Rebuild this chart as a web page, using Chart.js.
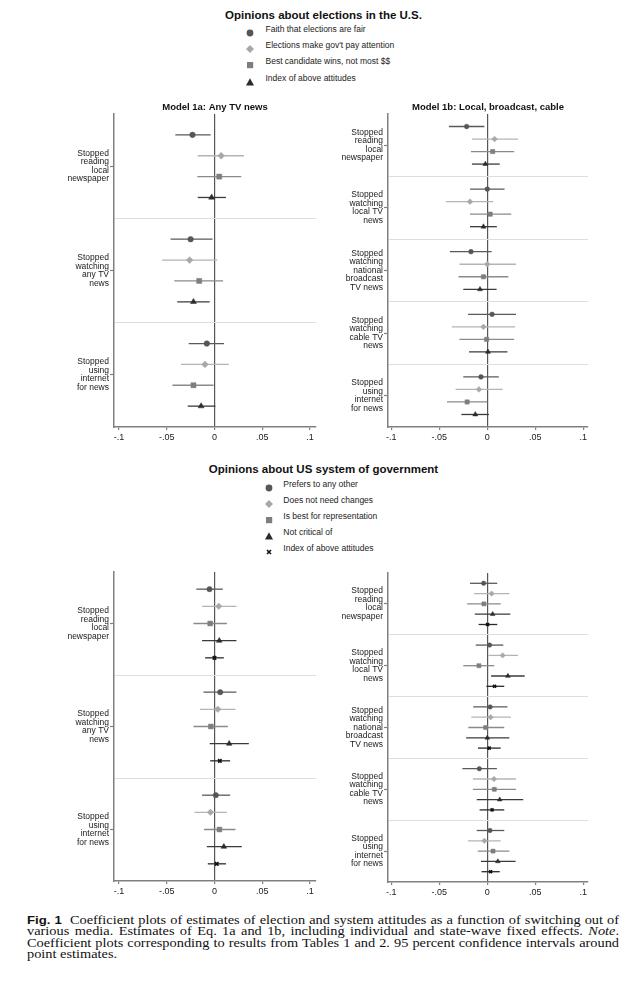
<!DOCTYPE html>
<html>
<head>
<meta charset="utf-8">
<script src="https://cdn.jsdelivr.net/npm/chart.js@4.4.1/dist/chart.umd.min.js"></script>
<style>
body { margin: 0; background: #fff; font-family: "Liberation Sans", Arial, sans-serif; color: #111; }
#page { position: relative; width: 636px; height: 1000px; overflow: hidden; }
canvas { position: absolute; }
.ttl { position: absolute; font-weight: bold; font-size: 11.5px; white-space: nowrap; transform: translate(-50%, -50%); }
.lg { position: absolute; font-size: 8.5px; line-height: 10px; white-space: nowrap; color: #222; }
.mk { position: absolute; }
#cap { position: absolute; left: 27px; top: 915px; width: 495px; transform: scaleX(1.196); transform-origin: 0 0;
       font-family: "Liberation Serif", "Times New Roman", serif; font-size: 12px; line-height: 11.4px; color: #111; }
#cap .cl { text-align: justify; text-align-last: justify; }
#cap .fig { font-family: "Liberation Sans", Arial, sans-serif; font-weight: bold; font-size: 11px; }
</style>
</head>
<body>
<div id="page">
  <div class="ttl" style="left:323.5px; top:15px;">Opinions about elections in the U.S.</div>
  <div class="ttl" style="left:323.5px; top:469px;">Opinions about US system of government</div>
  <div id="legendTop"></div>
  <div id="legendBottom"></div>
  <canvas id="tl" width="286" height="349" style="left:40px; top:96px;"></canvas>
  <canvas id="tr" width="283" height="349" style="left:315px; top:96px;"></canvas>
  <canvas id="bl" width="286" height="352" style="left:40px; top:547px;"></canvas>
  <canvas id="br" width="283" height="352" style="left:315px; top:548px;"></canvas>
  <div id="cap">
    <div class="cl"><span class="fig">Fig. 1</span>&nbsp; Coefficient plots of estimates of election and system attitudes as a function of switching out of</div>
    <div class="cl">various media. Estimates of Eq. 1a and 1b, including individual and state-wave fixed effects. <i>Note</i>.</div>
    <div class="cl">Coefficient plots corresponding to results from Tables 1 and 2. 95 percent confidence intervals around</div>
    <div>point estimates.</div>
  </div>
</div>
<script>
// x axis ticks
var xTicks = [-0.1, -0.05, 0, 0.05, 0.1];

// legend labels
var electionSeries = ["Faith that elections are fair", "Elections make gov't pay attention", "Best candidate wins, not most $$", "Index of above attitudes"];
var systemSeries = ["Prefers to any other", "Does not need changes", "Is best for representation", "Not critical of", "Index of above attitudes"];

// group labels (y axis)
var groups1a = [["Stopped", "reading", "local", "newspaper"], ["Stopped", "watching", "any TV", "news"], ["Stopped", "using", "internet", "for news"]];
var groups1b = [["Stopped", "reading", "local", "newspaper"], ["Stopped", "watching", "local TV", "news"], ["Stopped", "watching", "national", "broadcast", "TV news"], ["Stopped", "watching", "cable TV", "news"], ["Stopped", "using", "internet", "for news"]];

// [estimate, lower 95%, upper 95%] per group
// elections, model 1a
var el1a_faith = [[-0.023, -0.041, -0.004], [-0.025, -0.046, -0.002], [-0.008, -0.027, 0.010]];
var el1a_attention = [[0.007, -0.0175, 0.031], [-0.026, -0.055, 0.003], [-0.010, -0.035, 0.015]];
var el1a_best = [[0.005, -0.018, 0.028], [-0.016, -0.042, 0.009], [-0.022, -0.044, -0.001]];
var el1a_index = [[-0.003, -0.0175, 0.012], [-0.022, -0.039, -0.005], [-0.014, -0.028, 0.001]];
// elections, model 1b
var el1b_faith = [[-0.0215, -0.040, -0.003], [0, -0.018, 0.018], [-0.017, -0.039, 0.0045], [0.005, -0.020, 0.030], [-0.0066, -0.025, 0.012]];
var el1b_attention = [[0.0076, -0.016, 0.032], [-0.018, -0.043, 0.006], [0, -0.029, 0.030], [-0.004, -0.037, 0.029], [-0.0087, -0.033, 0.016]];
var el1b_best = [[0.0056, -0.017, 0.028], [0.003, -0.018, 0.025], [-0.004, -0.030, 0.022], [-0.0007, -0.029, 0.028], [-0.021, -0.042, 0]];
var el1b_index = [[-0.002, -0.016, 0.013], [-0.004, -0.018, 0.010], [-0.0076, -0.025, 0.0097], [0.0007, -0.019, 0.021], [-0.0125, -0.027, 0.0017]];
// system, model 1a
var sy1a_prefers = [[-0.0052, -0.019, 0.0087], [0.006, -0.0115, 0.023], [0.0014, -0.013, 0.0164]];
var sy1a_nochange = [[0.0045, -0.013, 0.023], [0.0035, -0.015, 0.022], [-0.0042, -0.021, 0.013]];
var sy1a_represent = [[-0.0045, -0.022, 0.013], [-0.0038, -0.022, 0.014], [0.0052, -0.011, 0.022]];
var sy1a_notcritical = [[0.005, -0.013, 0.023], [0.0154, -0.005, 0.036], [0.0098, -0.008, 0.0286]];
var sy1a_index = [[0, -0.0098, 0.0098], [0.0056, -0.0045, 0.0164], [0.0024, -0.007, 0.012]];
// system, model 1b
var sy1b_prefers = [[-0.0038, -0.018, 0.0104], [0.0024, -0.012, 0.0167], [0.003, -0.0146, 0.021], [-0.0083, -0.026, 0.010], [0.0028, -0.011, 0.0177]];
var sy1b_nochange = [[0.0045, -0.014, 0.023], [0.016, 0.001, 0.032], [0.0035, -0.0167, 0.0247], [0.007, -0.015, 0.030], [-0.003, -0.020, 0.014]];
var sy1b_represent = [[-0.0035, -0.021, 0.014], [-0.0087, -0.025, 0.0073], [-0.0017, -0.0198, 0.0177], [0.0073, -0.015, 0.030], [0.006, -0.010, 0.023]];
var sy1b_notcritical = [[0.0056, -0.013, 0.024], [0.0215, 0.004, 0.039], [0, -0.022, 0.023], [0.013, -0.011, 0.0375], [0.011, -0.0066, 0.0295]];
var sy1b_index = [[0.0003, -0.009, 0.0104], [0.0076, -0.001, 0.0177], [0.002, -0.0097, 0.014], [0.005, -0.008, 0.0177], [0.0035, -0.006, 0.013]];

// marker styles, in series order
var shapes = ["circle", "rectRot", "rect", "triangle", "crossRot"];
var fills = ["#565656", "#a8a8a8", "#7e7e7e", "#2b2b2b", "#111111"];
var ciColors = ["#5a5a5a", "#b4b4b4", "#8a8a8a", "#3a3a3a", "#2a2a2a"];
var radii = [2.8, 3.4, 3.6, 3.4, 2.6];

Chart.defaults.font.family = '"Liberation Sans", Arial, sans-serif';
Chart.defaults.color = "#1a1a1a";

// horizontal confidence interval lines, drawn with the chart's scales
var ciPlugin = {
    id: "ciBars",
    beforeDatasetsDraw: function (chart) {
        var ctx = chart.ctx;
        var xs = chart.scales.x;
        var ys = chart.scales.y;
        chart.data.datasets.forEach(function (ds) {
            ctx.save();
            ctx.strokeStyle = ds.ciColor;
            ctx.lineWidth = 1.3;
            ds.ci.forEach(function (c, i) {
                var y = ys.getPixelForValue(ds.data[i].y);
                ctx.beginPath();
                ctx.moveTo(xs.getPixelForValue(c[0]), y);
                ctx.lineTo(xs.getPixelForValue(c[1]), y);
                ctx.stroke();
            });
            ctx.restore();
        });
    }
};

function fmtTick(v) {
    v = Math.round(v * 100) / 100;
    if (v === 0) return "0";
    return String(v).replace("0.", ".");
}

function makePanel(id, groups, series, opt) {
    var n = series.length;
    var slot = n + 1;
    var centers = [], seps = [];
    for (var g = 0; g < groups.length; g++) {
        centers.push(g * slot + slot / 2);
        if (g < groups.length - 1) seps.push((g + 1) * slot);
    }
    var yTickVals = centers.concat(seps).sort(function (a, b) { return a - b; });
    var datasets = series.map(function (rows, s) {
        return {
            data: rows.map(function (r, g) { return {x: r[0], y: g * slot + s + 1}; }),
            ci: rows.map(function (r) { return [r[1], r[2]]; }),
            ciColor: ciColors[s],
            pointStyle: shapes[s],
            pointRadius: radii[s] * opt.scale,
            pointBackgroundColor: fills[s],
            pointBorderColor: fills[s],
            pointBorderWidth: s === 4 ? 1.6 : 0.5
        };
    });
    return new Chart(document.getElementById(id), {
        type: "scatter",
        data: {datasets: datasets},
        plugins: [ciPlugin],
        options: {
            responsive: false,
            animation: false,
            layout: {padding: {left: 0, right: 10, top: opt.padTop, bottom: 0}},
            plugins: {
                legend: {display: false},
                tooltip: {enabled: false},
                title: {
                    display: !!opt.title,
                    text: opt.title,
                    fullSize: false,
                    color: "#111",
                    font: {size: 9.5, weight: "bold", lineHeight: 1.2},
                    padding: {top: 0, bottom: 1}
                }
            },
            scales: {
                x: {
                    type: "linear",
                    min: opt.xMin,
                    max: opt.xMax,
                    afterBuildTicks: function (sc) { sc.ticks = xTicks.map(function (v) { return {value: v}; }); },
                    afterFit: function (sc) { sc.height = 18; },
                    border: {color: "#808080", width: 1.5},
                    grid: {
                        color: function (c) { return c.tick && c.tick.value === 0 ? "#555" : "rgba(0,0,0,0)"; },
                        lineWidth: 1.2,
                        tickColor: "#808080",
                        tickLength: 3,
                        tickWidth: 1.2
                    },
                    ticks: {
                        padding: 2,
                        maxRotation: 0,
                        autoSkip: false,
                        font: {size: 9},
                        callback: function (v) { return fmtTick(v); }
                    }
                },
                y: {
                    type: "linear",
                    reverse: true,
                    min: 0,
                    max: groups.length * slot,
                    afterBuildTicks: function (sc) { sc.ticks = yTickVals.map(function (v) { return {value: v}; }); },
                    afterFit: function (sc) { sc.width = opt.yWidth; },
                    border: {color: "#808080", width: 1.5},
                    grid: {
                        color: function (c) { return c.tick && seps.indexOf(c.tick.value) >= 0 ? "#dedede" : "rgba(0,0,0,0)"; },
                        tickColor: function (c) { return c.tick && centers.indexOf(c.tick.value) >= 0 ? "#808080" : "rgba(0,0,0,0)"; },
                        lineWidth: 1,
                        tickLength: 4,
                        tickWidth: 1.2
                    },
                    ticks: {
                        padding: 1,
                        autoSkip: false,
                        font: {size: 8.5, lineHeight: 1.0},
                        callback: function (v) {
                            var g = centers.indexOf(v);
                            return g >= 0 ? groups[g] : "";
                        }
                    }
                }
            }
        }
    });
}

makePanel("tl", groups1a, [el1a_faith, el1a_attention, el1a_best, el1a_index],
    {title: "Model 1a: Any TV news", padTop: 5, yWidth: 74, xMin: -0.1052, xMax: 0.1063, scale: 1});
makePanel("tr", groups1b, [el1b_faith, el1b_attention, el1b_best, el1b_index],
    {title: "Model 1b: Local, broadcast, cable", padTop: 5, yWidth: 73, xMin: -0.1035, xMax: 0.105, scale: 0.85});
makePanel("bl", groups1a, [sy1a_prefers, sy1a_nochange, sy1a_represent, sy1a_notcritical, sy1a_index],
    {title: "", padTop: 25, yWidth: 74, xMin: -0.1052, xMax: 0.1063, scale: 0.95});
makePanel("br", groups1b, [sy1b_prefers, sy1b_nochange, sy1b_represent, sy1b_notcritical, sy1b_index],
    {title: "", padTop: 25, yWidth: 73, xMin: -0.1035, xMax: 0.105, scale: 0.8});

// html legends with small svg markers
function markerSvg(s) {
    var c = fills[s], p;
    if (s === 0) p = '<circle cx="5" cy="5" r="3.4" fill="' + c + '"/>';
    else if (s === 1) p = '<polygon points="5,1 9,5 5,9 1,5" fill="' + c + '"/>';
    else if (s === 2) p = '<rect x="2" y="2" width="6.2" height="6.2" fill="' + c + '"/>';
    else if (s === 3) p = '<polygon points="5,1.2 9,8.4 1,8.4" fill="' + c + '"/>';
    else p = '<path d="M3,3 L7,7 M7,3 L3,7" stroke="' + c + '" stroke-width="1.6"/>';
    return '<svg width="10" height="10">' + p + '</svg>';
}

function makeLegend(elId, labels, markX, textX, rows) {
    var html = "";
    labels.forEach(function (lab, i) {
        html += '<div class="mk" style="left:' + (markX - 5) + 'px; top:' + (rows[i] - 5) + 'px;">' + markerSvg(i) + '</div>';
        html += '<div class="lg" style="left:' + textX + 'px; top:' + (rows[i] - 5) + 'px;">' + lab.replace("$$", "&#36;&#36;") + '</div>';
    });
    document.getElementById(elId).innerHTML = html;
}

makeLegend("legendTop", electionSeries, 250, 265.5, [29, 45, 61.3, 77.5]);
makeLegend("legendBottom", systemSeries, 269.3, 283.3, [484, 500, 515.7, 531.8, 548.2]);
</script>
</body>
</html>
